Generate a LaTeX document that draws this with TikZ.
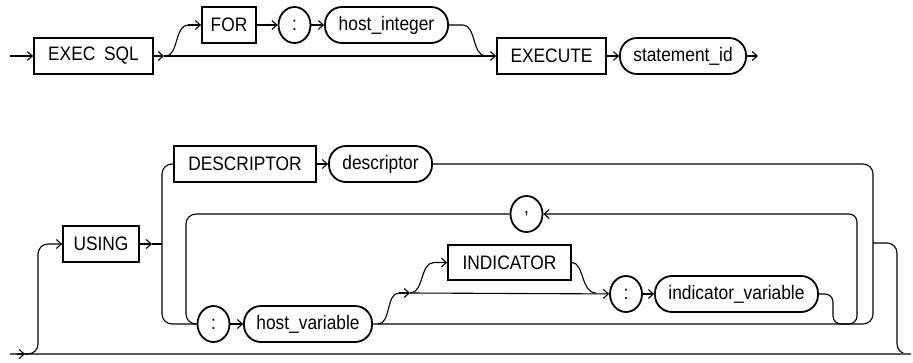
\documentclass[tikz,border=0pt]{standalone}
\usepackage{fontspec}
\setmainfont{Liberation Sans}[FakeStretch=0.89]
\usetikzlibrary{arrows.meta,shapes.geometric}
\tikzset{
  kw/.style={draw, line width=1.8pt, rectangle, minimum height=36pt, inner sep=0pt},
  idn/.style={draw, line width=1.8pt, rectangle, rounded corners=17pt, minimum height=36pt, inner sep=0pt},
  sym/.style={draw, line width=1.8pt, ellipse, minimum width=32pt, minimum height=36pt, inner sep=0pt},
  conn/.style={line width=1.1pt},
  arr/.style={conn, -{Straight Barb[length=5pt,width=9pt,line width=1.1pt]}},
  bottomline/.style={line width=2pt, draw=black!65},
}
\begin{document}
\begin{tikzpicture}[x=1pt,y=-1pt,font=\fontsize{19.5}{22}\selectfont]
\useasboundingbox (0,0) rectangle (913,362);
% ---------- top diagram ----------
\node[kw, minimum width=119pt] (execsql) at (93.5,56) {EXEC\hspace{0.45em}SQL};
\node[kw, minimum width=54pt] (for) at (229,25) {FOR};
\node[sym] (c1) at (294.5,25) {:};
\node[idn, minimum width=123pt] (hostint) at (386.5,25) {host\_integer};
\node[kw, minimum width=109pt] (execute) at (551.5,56) {EXECUTE};
\node[idn, minimum width=126pt] (stmt) at (683,56) {statement\_id};
\coordinate (start1) at (10,56);
\coordinate (a1) at (164,56);
\coordinate (end1) at (758,56);
\coordinate (b1) at (166,56);
\coordinate (b2) at (188,25);
\coordinate (m1) at (463,25);
\coordinate (m2) at (486,56);
\draw[arr] (start1) -- (execsql);
\draw[arr] (execsql) -- (a1);
\draw[arr] (a1) -- (execute);
\draw[conn] (b1) .. controls (178,56) and (175,25) .. (b2);
\draw[arr] (b2) -- (for);
\draw[arr] (for) -- (c1);
\draw[arr] (c1) -- (hostint);
\draw[conn] (hostint) -- (m1) .. controls (476,25) and (472,56) .. (m2);
\draw[arr] (execute) -- (stmt);
\draw[arr] (stmt) -- (end1);
% ---------- bottom diagram ----------
\node[kw, minimum width=76pt] (using) at (101,244) {USING};
\node[kw, minimum width=142pt] (descbox) at (245,164) {DESCRIPTOR};
\node[idn, minimum width=103pt] (descvar) at (380.5,164) {descriptor};
\node[sym] (comma) at (526.5,214) {,};
\node[sym] (c2) at (213.5,324) {:};
\node[idn, minimum width=128pt] (hostvar) at (308,324) {host\_variable};
\node[kw, minimum width=123pt, minimum height=35pt] (ind) at (509.5,262.5) {INDICATOR};
\node[sym] (c3) at (626,294) {:};
\node[idn, minimum width=163pt] (indvar) at (736.5,294) {indicator\_variable};
\coordinate (s2) at (10,354);
\coordinate (e2) at (911,354);
\coordinate (s2a) at (25,354);
\coordinate (s2b) at (17,354);
\coordinate (u1) at (152,244);
\coordinate (u2) at (162,244);
\coordinate (x1) at (873,243);
\coordinate (h1) at (378,324);
\coordinate (h2) at (399,293);
\coordinate (h3) at (410,293);
\coordinate (h4) at (434,262.5);
\coordinate (i1) at (596,293);
% exit of the USING clause and bypass
\draw[conn, rounded corners=10] (x1) -| (897,354) -- (e2);
\draw[bottomline] (s2) -- (e2);
\draw[arr] (s2b) -- (s2a);
\draw[arr, rounded corners=10] (s2a) -| (38,244) -- (using);
\draw[arr] (using) -- (u1);
\draw[conn] (u1) -- (u2);
\draw[conn, rounded corners=10] (descbox.west) -| (162,324) -- (c2.west);
\draw[arr] (descbox) -- (descvar);
\draw[conn, rounded corners=10] (descvar.east) -| (873,324) -- (hostvar.east);
\draw[conn, rounded corners=10] (comma.west) -| (186,324) -- (c2.west);
\draw[arr] (c2) -- (hostvar);
\draw[arr, rounded corners=8] (indvar.east) -| (833,324) -| (857,214) -- (comma.east);
% optional indicator
\draw[conn] (h1) .. controls (391,324) and (386,293) .. (h2);
\draw[arr] (h2) -- (h3);
\draw[arr] (h3) -- (c3);
\draw[arr] (h3) .. controls (424,293) and (420,262.5) .. (h4) -- (ind);
\draw[conn] (ind.east) .. controls (584,262.5) and (581,293) .. (i1);
\draw[arr] (c3) -- (indvar);
\end{tikzpicture}
\end{document}
